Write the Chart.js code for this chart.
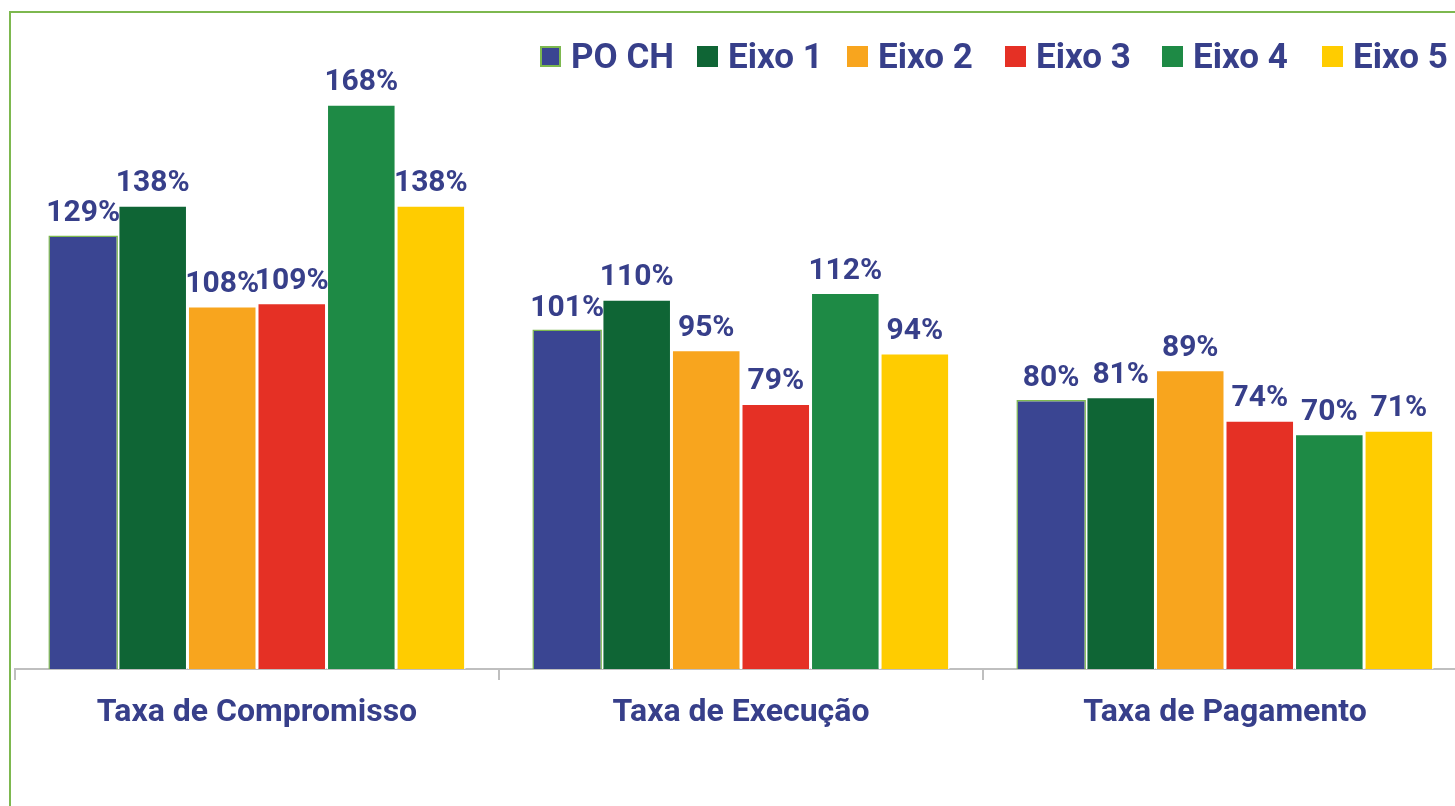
<!DOCTYPE html>
<html>
<head>
<meta charset="utf-8">
<script src="https://cdn.jsdelivr.net/npm/chart.js@4.4.1/dist/chart.umd.min.js"></script>
<style>
  html, body { margin: 0; padding: 0; overflow: hidden; background: #fff; width: 1455px; height: 806px; }
  #frame { position: absolute; left: 9px; top: 11px; width: 1500px; height: 900px; border: 2px solid #7DB84F; box-sizing: border-box; }
  #wrap { position: absolute; left: 0; top: 0; width: 1470px; height: 806px; }
  #legend { position: absolute; top: 36px; left: 540px; display: flex; align-items: center; font-family: Roboto, sans-serif; font-weight: 700; font-size: 35px; color: #373F8A; white-space: nowrap; }
  #legend .item { display: flex; align-items: center; flex: none; }
  #legend .sw { width: 21px; height: 21px; margin-right: 10px; box-sizing: border-box; flex: none; }
</style>
</head>
<body>
<div id="frame"></div>
<div id="wrap"><canvas id="chart"></canvas></div>
<div id="legend"></div>
<script>
// categories and series (values in %)
const categories = ['Taxa de Compromisso', 'Taxa de Execução', 'Taxa de Pagamento'];
const seriesNames = ['PO CH', 'Eixo 1', 'Eixo 2', 'Eixo 3', 'Eixo 4', 'Eixo 5'];
const poch  = [129, 101, 80];
const eixo1 = [138, 110, 81];
const eixo2 = [108, 95, 89];
const eixo3 = [109, 79, 74];
const eixo4 = [168, 112, 70];
const eixo5 = [138, 94, 71];

const colors = ['#3A4592', '#0F6535', '#F8A51E', '#E53025', '#1E8A45', '#FFCC00'];
const borders = ['#7DB84F', '#fff', '#fff', '#fff', '#fff', '#fff'];
const textColor = '#373F8A';
// legend item widths (swatch + text + gap)
const legendWidths = [157, 150, 158, 157, 160, 140];

const allValues = [poch, eixo1, eixo2, eixo3, eixo4, eixo5];

const datasets = allValues.map((vals, i) => ({
  label: seriesNames[i],
  data: vals,
  backgroundColor: colors[i],
  borderColor: borders[i],
  borderWidth: 1.5,
  borderSkipped: 'bottom',
  barPercentage: 1,
  categoryPercentage: 0.862
}));

// data labels above bars
const barLabels = {
  id: 'barLabels',
  afterDatasetsDraw(chart){
    const ctx = chart.ctx;
    ctx.save();
    ctx.font = 'bold 30px Roboto, sans-serif';
    ctx.fillStyle = textColor;
    ctx.textAlign = 'center';
    ctx.textBaseline = 'alphabetic';
    chart.data.datasets.forEach((ds, i) => {
      const meta = chart.getDatasetMeta(i);
      meta.data.forEach((bar, j) => {
        ctx.fillText(ds.data[j] + '%', bar.x, bar.y - 14);
      });
    });
    ctx.restore();
  }
};

new Chart(document.getElementById('chart'), {
  type: 'bar',
  data: { labels: categories, datasets },
  options: {
    responsive: true,
    maintainAspectRatio: false,
    animation: false,
    layout: { padding: { left: 15, top: 64, right: 3, bottom: 0 } },
    plugins: { legend: { display: false }, tooltip: { enabled: false } },
    scales: {
      y: { display: false, min: 0, max: 180 },
      x: {
        grid: { offset: true, drawOnChartArea: false, drawTicks: true, tickLength: 11, color: '#BFBFBF', lineWidth: 2 },
        border: { color: '#BFBFBF', width: 2 },
        ticks: { color: textColor, font: { family: 'Roboto, sans-serif', size: 32, weight: 'bold' }, padding: 14, maxRotation: 0 },
        afterFit(scale){ scale.height = 137; }
      }
    }
  },
  plugins: [barLabels]
});

// html legend built from the series
const legend = document.getElementById('legend');
seriesNames.forEach((name, i) => {
  const item = document.createElement('div');
  item.className = 'item';
  item.style.width = legendWidths[i] + 'px';
  const sw = document.createElement('span');
  sw.className = 'sw';
  sw.style.background = colors[i];
  if (i === 0) sw.style.border = '2px solid #7DB84F';
  const t = document.createElement('span');
  t.textContent = name;
  item.appendChild(sw);
  item.appendChild(t);
  legend.appendChild(item);
});
</script>
</body>
</html>
